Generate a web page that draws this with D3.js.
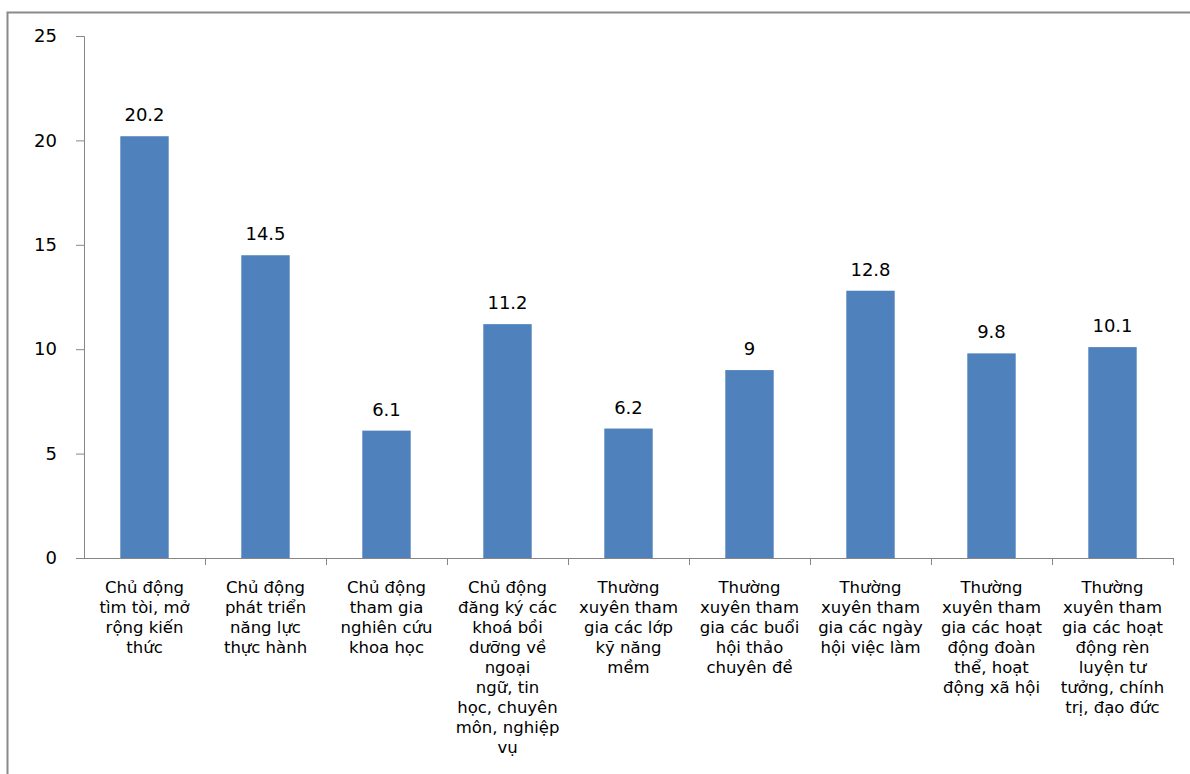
<!DOCTYPE html>
<html><head><meta charset="utf-8">
<script src="https://cdn.jsdelivr.net/npm/d3@7"></script>
<style>body{margin:0;background:#fff}svg{display:block}</style>
</head><body><svg id="c" width="1190" height="774"></svg>
<script>
const categories = [
  ["Chủ động","tìm tòi, mở","rộng kiến","thức"],
  ["Chủ động","phát triển","năng lực","thực hành"],
  ["Chủ động","tham gia","nghiên cứu","khoa học"],
  ["Chủ động","đăng ký các","khoá bồi","dưỡng về","ngoại","ngữ, tin","học, chuyên","môn, nghiệp","vụ"],
  ["Thường","xuyên tham","gia các lớp","kỹ năng","mềm"],
  ["Thường","xuyên tham","gia các buổi","hội thảo","chuyên đề"],
  ["Thường","xuyên tham","gia các ngày","hội việc làm"],
  ["Thường","xuyên tham","gia các hoạt","động đoàn","thể, hoạt","động xã hội"],
  ["Thường","xuyên tham","gia các hoạt","động rèn","luyện tư","tưởng, chính","trị, đạo đức"]
];
const values = [20.2, 14.5, 6.1, 11.2, 6.2, 9, 12.8, 9.8, 10.1];
const yTicks = [0, 5, 10, 15, 20, 25];

const svg = d3.select("#c");
const font = "'DejaVu Sans', Verdana, sans-serif";
const axisColor = "#868686";

// outer frame
svg.append("path").attr("d","M7.5,800 L7.5,12.5 L1200,12.5")
  .attr("fill","none").attr("stroke","#8a8a8a").attr("stroke-width",2);

const x = d3.scaleBand().domain(d3.range(values.length)).range([84, 1173]).padding(0);
const y = d3.scaleLinear().domain([0, 25]).range([558, 36]);
const barW = x.bandwidth() * 0.4;

// bars
svg.selectAll("rect.bar").data(values).enter().append("rect")
  .attr("x", (d,i) => x(i) + (x.bandwidth()-barW)/2)
  .attr("y", d => y(d))
  .attr("width", barW)
  .attr("height", d => y(0) - y(d))
  .attr("fill", "#4f81bd");

// y axis
const yAxis = svg.append("g").attr("transform","translate(84,0)")
  .call(d3.axisLeft(y).tickValues(yTicks).tickSize(8).tickPadding(19));
yAxis.select(".domain").attr("stroke", axisColor);
yAxis.selectAll(".tick line").attr("stroke", axisColor);
yAxis.selectAll(".tick text").attr("font-family", font).attr("font-size", 18).attr("fill","#000");

// x axis line and boundary ticks
const bounds = d3.range(values.length + 1).map(i => i < values.length ? x(i) : x(values.length-1) + x.bandwidth());
svg.append("line").attr("x1",76).attr("x2",bounds[bounds.length-1]).attr("y1",y(0)+0.5).attr("y2",y(0)+0.5)
  .attr("stroke",axisColor);
svg.selectAll("line.xt").data(bounds.slice(1)).enter().append("line")
  .attr("x1", d=>d+0.5).attr("x2", d=>d+0.5).attr("y1", y(0)).attr("y2", y(0)+7)
  .attr("stroke", axisColor);

// value labels
svg.selectAll("text.val").data(values).enter().append("text")
  .attr("x", (d,i) => x(i) + x.bandwidth()/2)
  .attr("y", d => y(d) - 15)
  .attr("text-anchor","middle")
  .attr("font-family", font).attr("font-size", 18).attr("fill","#000")
  .text(d => d);

// category labels
categories.forEach((lines, i) => {
  const t = svg.append("text")
    .attr("x", x(i) + x.bandwidth()/2)
    .attr("y", 593)
    .attr("text-anchor","middle")
    .attr("font-family", font).attr("font-size", 16.5).attr("fill","#000");
  lines.forEach((ln, j) => {
    t.append("tspan").attr("x", x(i) + x.bandwidth()/2).attr("y", 593 + j*20).text(ln);
  });
});
</script></body></html>
